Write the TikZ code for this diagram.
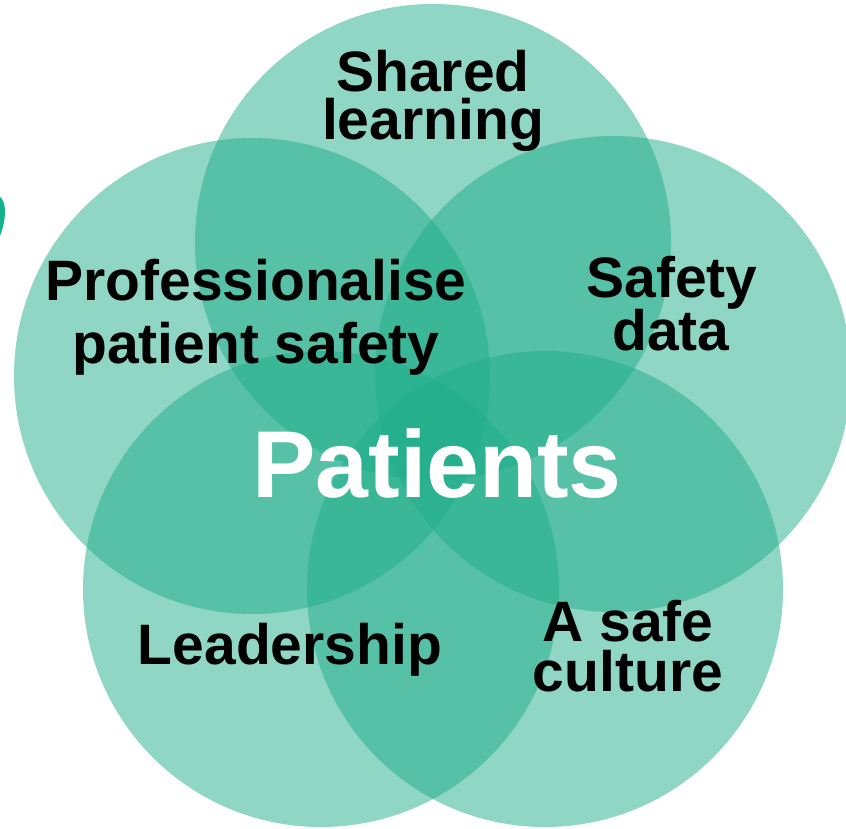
\documentclass[tikz,border=0pt]{standalone}
\usepackage{fontspec}
\setmainfont{Liberation Sans}
\definecolor{petal}{RGB}{31,173,137}
\definecolor{petaldark}{RGB}{20,178,140}
\begin{document}
\begin{tikzpicture}[x=1pt,y=-1pt,
  petalc/.style={circle, fill=petal, fill opacity=0.5, minimum size=476pt, inner sep=0pt, draw=none},
  lbl/.style={font=\bfseries\fontsize{57}{57}\selectfont, text=black, anchor=base, inner sep=0pt},
  biglbl/.style={font=\bfseries\fontsize{95}{95}\selectfont, text=white, anchor=base, inner sep=0pt}]
\useasboundingbox (0,0) rectangle (846,829);
\clip (0,0) rectangle (846,829);
% artifact at left edge
\fill[petaldark] (0,197) .. controls (5,200) and (6,212) .. (4,222) .. controls (3,228) and (1,233) .. (0,236) -- cycle;
% circles
\node[petalc] (ctop) at (433,242) {};
\node[petalc] (cleft) at (252,376) {};
\node[petalc] (cright) at (613,374) {};
\node[petalc] (cbl) at (321,589) {};
\node[petalc] (cbr) at (545,589) {};
% labels
\node[lbl] (shared1) at (433,92) {Shared};
\node[lbl] (shared2) at (433,140) {learning};
\node[lbl] (prof1) at (256,300) {Professionalise};
\node[lbl] (prof2) at (256,363) {patient safety};
\node[lbl] (safety1) at (672,297) {Safety};
\node[lbl] (safety2) at (671,350) {data};
\node[lbl] (lead) at (290,664) {Leadership};
\node[lbl] (culture1) at (628,641) {A safe};
\node[lbl] (culture2) at (628,691) {culture};
\node[biglbl] (patients) at (437,497) {Patients};
\end{tikzpicture}
\end{document}
